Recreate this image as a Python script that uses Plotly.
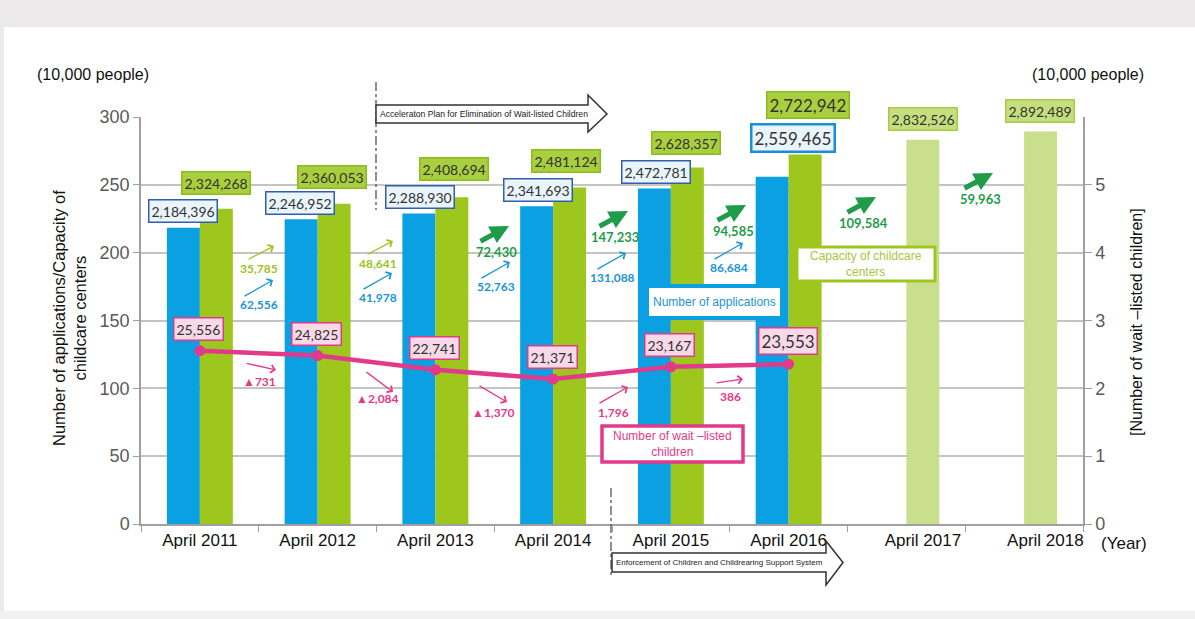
import plotly.graph_objects as go

# ---------------- data ----------------
categories = ["April 2011", "April 2012", "April 2013", "April 2014",
              "April 2015", "April 2016", "April 2017", "April 2018"]
applications = [218.4396, 224.6952, 228.8930, 234.1693, 247.2781, 255.9465, None, None]   # 10,000 people
capacity = [232.4268, 236.0053, 240.8694, 248.1124, 262.8357, 272.2942, 283.2526, 289.2489]  # 10,000 people
waitlisted = [2.5556, 2.4825, 2.2741, 2.1371, 2.3167, 2.3553]  # 10,000 people
app_increase = ["62,556", "41,978", "52,763", "131,088", "86,684"]
cap_increase = ["35,785", "48,641", "72,430", "147,233", "94,585", "109,584", "59,963"]
wait_change = ["▲731", "▲2,084", "▲1,370", "1,796", "386"]
left_ticks = [0, 50, 100, 150, 200, 250, 300]
right_ticks = [0, 1, 2, 3, 4, 5]

# ---------------- styles ----------------
W, H = 1195, 619
PL, PR, PT, PB = 141, 1083, 117, 524
BLUE = "#0aa0e2"
GREEN = "#9dc71c"
LIGHT_GREEN = "#c9df8c"
PINK = "#e3398b"
DKGREEN = "#1f9c49"
YGREEN = "#9cc31e"
BLUE_TXT = "#1c95d3"
NUMFONT = "Lato, Open Sans, sans-serif"
AXFONT = "Liberation Sans, Arial, sans-serif"
NARROW = "Liberation Sans Narrow, Liberation Sans, Arial, sans-serif"
label_pad = [0, 0, 0, 0, 0, 0, 7, 9]   # leading spaces to nudge the last two labels under their bars
tick_labels = ["\u00a0" * n + c for n, c in zip(label_pad, categories)]


def px(x):
    return (x - PL) / (PR - PL)


def py(y):
    return (PB - y) / (PB - PT)


fig = go.Figure()

cap_colors = [GREEN] * 6 + [LIGHT_GREEN] * 2
fig.add_trace(go.Bar(x=categories, y=applications, marker_color=BLUE, marker_line_width=0,
                     name="Number of applications"))
fig.add_trace(go.Bar(x=categories, y=capacity, marker_color=cap_colors, marker_line_width=0,
                     name="Capacity of childcare centers"))
fig.add_trace(go.Scatter(x=categories[:len(waitlisted)], y=waitlisted, yaxis="y2",
                         mode="lines+markers", line=dict(color=PINK, width=4.5),
                         marker=dict(color=PINK, size=11), name="Number of wait-listed children"))

ann = []
shapes = []


def text_px(xc, yc, text, font, **kw):
    d = dict(x=px(xc), y=py(yc), xref="paper", yref="paper", text=text, showarrow=False,
             xanchor="center", yanchor="middle", font=font)
    d.update(kw)
    ann.append(d)


# boxed value labels
app_dx = [-17, -18, -15, -15, -15, 4]
app_dy = [17, 16, 16, 16, 17, 39]
for i, v in enumerate(applications):
    if v is None:
        continue
    big = i == 5
    ann.append(dict(x=categories[i], y=v, xref="x", yref="y", xshift=app_dx[i], yshift=app_dy[i],
                    xanchor="center", yanchor="middle",
                    text=f"{int(round(v * 10000)):,}", showarrow=False,
                    font=dict(family=NUMFONT, size=17 if big else 14, color="#333333"),
                    bgcolor="#e9f4fb", bordercolor="#1a8fd8" if big else "#2f5fae",
                    borderwidth=2.5 if big else 1.5, borderpad=2))

cap_dx = [16, 14, 19, 13, 15, 19, 17, 16]
cap_dy = [26, 27, 28, 26, 24, 50, 21, 21]
for i, v in enumerate(capacity):
    big = i == 5
    light = i >= 6
    ann.append(dict(x=categories[i], y=v, xref="x", yref="y", xshift=cap_dx[i], yshift=cap_dy[i],
                    xanchor="center", yanchor="middle",
                    text=f"{int(round(v * 10000)):,}", showarrow=False,
                    font=dict(family=NUMFONT, size=17 if big else 14, color="#333333"),
                    bgcolor="#c6df7e" if light else "#a9cf3e",
                    bordercolor="#a8cc45" if light else "#8cbb1e",
                    borderwidth=1.5, borderpad=2))

for i, v in enumerate(waitlisted):
    big = i == 5
    ann.append(dict(x=categories[i], y=v, xref="x", yref="y2", xshift=-1, yshift=23 if big else 22,
                    xanchor="center", yanchor="middle",
                    text=f"{int(round(v * 10000)):,}", showarrow=False,
                    font=dict(family=NUMFONT, size=17 if big else 14, color="#333333"),
                    bgcolor="#f8d9e7", bordercolor=PINK, borderwidth=1.5, borderpad=2))


def arrow(xc, yc, tail, head, color, width, headstyle, size):
    ann.append(dict(x=px(xc + head[0]), y=py(yc + head[1]), xref="paper", yref="paper",
                    ax=(tail[0] - head[0]), ay=(tail[1] - head[1]), axref="pixel", ayref="pixel",
                    text="", showarrow=True, arrowcolor=color, arrowwidth=width,
                    arrowhead=headstyle, arrowsize=size, standoff=0, startstandoff=0))


# application increases (blue)
app_inc_x = [259, 378, 496, 612, 729]
app_inc_y = [304, 297, 286, 277, 267]
for t, xc, yc in zip(app_increase, app_inc_x, app_inc_y):
    text_px(xc, yc, f"<b>{t}</b>", dict(family=NUMFONT, size=12, color=BLUE_TXT))
    arrow(xc, yc, (-16, -7), (14, -24), BLUE_TXT, 1.3, 4, 1.2)

# capacity increases (green)
cap_inc_x = [259, 378, 496, 615, 733, 863, 980]
cap_inc_y = [268, 263, 252, 237, 231, 223, 199]
for i, (t, xc, yc) in enumerate(zip(cap_increase, cap_inc_x, cap_inc_y)):
    thick = i >= 2
    col = DKGREEN if thick else YGREEN
    text_px(xc, yc, f"<b>{t}</b>", dict(family=NUMFONT, size=13 if thick else 12, color=col))
    if thick:
        arrow(xc, yc, (-17, -10), (13, -26), col, 5, 2, 0.75)
    else:
        arrow(xc, yc, (-12, -8), (15, -22), col, 1.3, 4, 1.2)

# wait-listed changes (pink)
wait_x = [259, 377, 493, 613, 730]
wait_y = [381, 398, 412, 412, 397]
wait_tail = [(-14, -18), (-12, -27), (-15, -27), (-15, -8), (-15, -14)]
wait_head = [(17, -11), (16, -6), (14, -10), (15, -25), (13, -18)]
for t, xc, yc, tl, hd in zip(wait_change, wait_x, wait_y, wait_tail, wait_head):
    text_px(xc, yc, f"<b>{t}</b>", dict(family=NUMFONT, size=12, color=PINK))
    arrow(xc, yc, tl, hd, PINK, 1.3, 4, 1.2)

# legend-like boxes
legend_boxes = [
    ((647, 286, 782, 318), BLUE, 4, "Number of applications", BLUE_TXT),
    ((797, 247, 935, 281), GREEN, 3, "Capacity of childcare<br>centers", "#a5c83c"),
    ((602, 426, 743, 462), PINK, 3.5, "Number of wait –listed<br>children", PINK),
]
for (x0, y0, x1, y1), bc, bw, txt, tc in legend_boxes:
    shapes.append(dict(type="rect", xref="paper", yref="paper", x0=px(x0), x1=px(x1),
                       y0=py(y1), y1=py(y0), line=dict(color=bc, width=bw), fillcolor="white",
                       layer="above"))
    text_px((x0 + x1) / 2, (y0 + y1) / 2, txt, dict(family=NARROW, size=12, color=tc))


# period arrows
def period_arrow(xl, xb, xt, yb0, yb1, yh0, yh1, text, fsize):
    ym = (yb0 + yb1) / 2
    pts = [(xl, yb0), (xb, yb0), (xb, yh0), (xt, ym), (xb, yh1), (xb, yb1), (xl, yb1)]
    path = "M " + " L ".join(f"{px(a):.5f},{py(b):.5f}" for a, b in pts) + " Z"
    shapes.append(dict(type="path", xref="paper", yref="paper", path=path,
                       line=dict(color="#333333", width=1.5), fillcolor="white", layer="above"))
    text_px(xl + 2, ym, text, dict(family=NARROW, size=fsize, color="#222222"), xanchor="left")


shapes.append(dict(type="line", xref="paper", yref="paper", x0=px(376), x1=px(376),
                   y0=py(82), y1=py(210), line=dict(color="#555555", width=1.3, dash="dashdot")))
period_arrow(376, 588, 607, 105, 123, 95, 132,
             "Acceleraton Plan for Elimination of Wait-listed Children", 8.6)
shapes.append(dict(type="line", xref="paper", yref="paper", x0=px(611), x1=px(611),
                   y0=py(488), y1=py(576), line=dict(color="#555555", width=1.3, dash="dashdot")))
period_arrow(612, 826, 843, 553, 572, 541, 585,
             "Enforcement of Children and Childrearing Support System", 8)

# page background bands
shapes.append(dict(type="rect", xref="paper", yref="paper", x0=px(0), x1=px(W), y0=py(27), y1=py(0),
                   line=dict(width=0), fillcolor="#ebe9e9", layer="below"))
shapes.append(dict(type="rect", xref="paper", yref="paper", x0=px(0), x1=px(4), y0=py(H), y1=py(0),
                   line=dict(width=0), fillcolor="#ebebeb", layer="below"))
shapes.append(dict(type="rect", xref="paper", yref="paper", x0=px(0), x1=px(W), y0=py(H), y1=py(611),
                   line=dict(width=0), fillcolor="#f1f1f1", layer="below"))

# axis captions
cap_font = dict(family=AXFONT, size=16, color="#111111")
text_px(93, 75, "(10,000 people)", cap_font)
text_px(1088, 75, "(10,000 people)", cap_font)
text_px(1124, 543, "(Year)", dict(family=AXFONT, size=17, color="#111111"))
text_px(69, 318, "Number of applications/Capacity of<br>childcare centers",
        dict(family=AXFONT, size=16.5, color="#111111"), textangle=-90)
text_px(1136, 322, "[Number of wait –listed children]", cap_font, textangle=-90)

fig.update_layout(
    width=W, height=H,
    margin=dict(l=PL, r=W - PR, t=PT, b=H - PB, pad=0),
    paper_bgcolor="white", plot_bgcolor="white",
    barmode="group", bargap=0.44, bargroupgap=0,
    showlegend=False,
    xaxis=dict(type="category", categoryorder="array", categoryarray=categories,
               tickmode="array", tickvals=categories, ticktext=tick_labels, tickangle=0,
               range=[-0.5, 7.5], tickson="boundaries", ticks="outside", ticklen=6,
               tickcolor="#a0a0a0", showline=True, linecolor="#a0a0a0", linewidth=1.5,
               showgrid=False, tickfont=dict(family=AXFONT, size=17, color="#111111")),
    yaxis=dict(range=[0, 300], tickvals=left_ticks, ticks="outside", ticklen=6,
               tickcolor="#a0a0a0", showline=True, linecolor="#a0a0a0", linewidth=1.5,
               gridcolor="#c4c4c4", gridwidth=1.5, zeroline=False,
               tickfont=dict(family=NARROW, size=18, color="#5a5a5a")),
    yaxis2=dict(range=[0, 6], tickvals=right_ticks, overlaying="y", side="right",
                ticks="outside", ticklen=7, tickcolor="#a0a0a0", showline=True,
                linecolor="#a0a0a0", linewidth=1.5, showgrid=False, zeroline=False,
                tickfont=dict(family=NARROW, size=18, color="#5a5a5a")),
    annotations=ann, shapes=shapes,
)

fig.write_html("out.html", config={"displayModeBar": False},
               post_script="document.body.style.margin='0';document.body.style.padding='0';")
